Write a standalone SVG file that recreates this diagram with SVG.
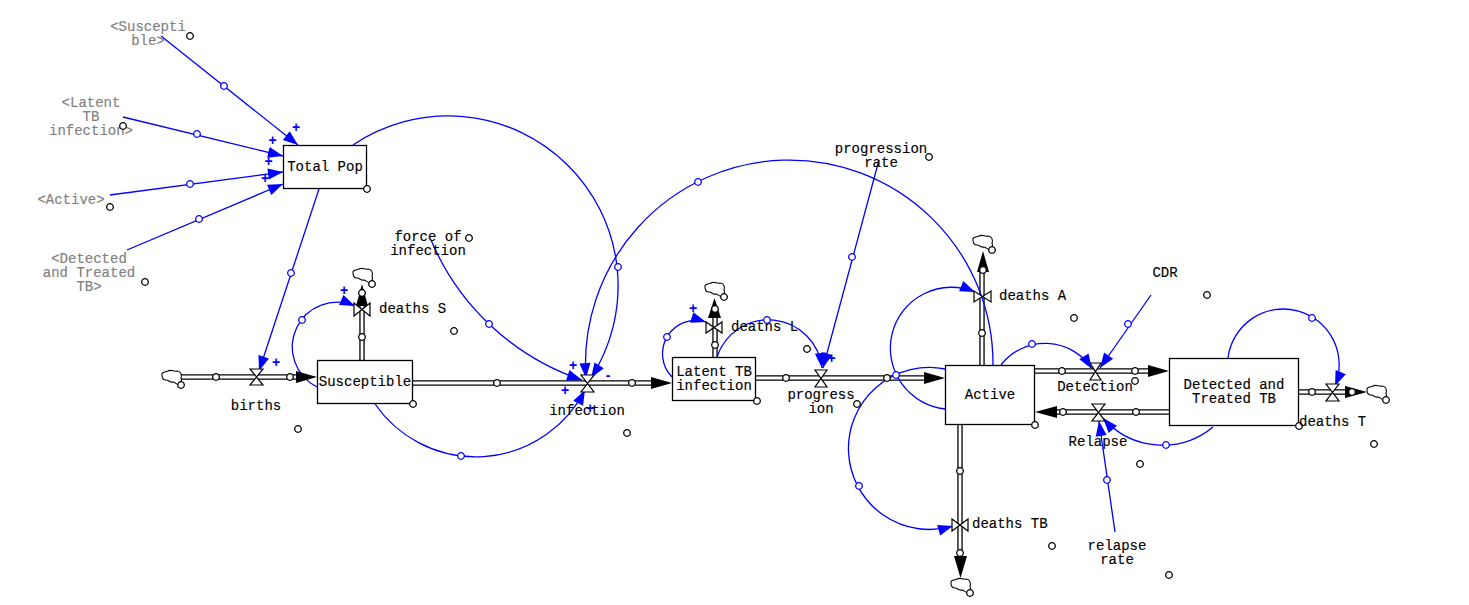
<svg xmlns="http://www.w3.org/2000/svg" width="1469" height="605" viewBox="0 0 1469 605">
<style>
text{font-family:"Liberation Mono",monospace;font-size:14px;fill:#000;text-anchor:middle;stroke:#000;stroke-width:.15}
text.l{text-anchor:start}
text.g{fill:#808080;stroke:#808080}
text.p{font-family:"Liberation Sans",sans-serif;font-weight:bold;font-size:14px;fill:#00f;stroke:none}
.box{fill:#fff;stroke:#000;stroke-width:1.3}
.po{fill:none;stroke:#000;stroke-width:5.4}
.pi{fill:none;stroke:#fff;stroke-width:2.8}
.lnk{fill:none;stroke:#00f;stroke-width:1.3;marker-end:url(#ah)}
.valve{fill:#fff;stroke:#000;stroke-width:1.2}
.cloud{fill:#fff;stroke:#000;stroke-width:1.1}
.hb{fill:#fff;stroke:#00f;stroke-width:1.3}
.hk{fill:#fff;stroke:#000;stroke-width:1.3}
.ar{fill:#000}
</style>
<defs>
<marker id="ah" markerUnits="userSpaceOnUse" markerWidth="16" markerHeight="12" refX="15" refY="5.5" orient="auto" overflow="visible"><path d="M0,0 L15,5.5 L0,11 Z" fill="#00f"/></marker>
<path id="cl" d="M-10,-3 C-11,-6 -6,-6 -4,-7 C-1,-9 2,-6 5,-7 C9,-7 10,-3 9,0 C10,3 9,5 8,6 C5,8 3,4 1,4 C-2,5 -3,2 -6,2 C-9,2 -10,-1 -10,-3 Z"/>
<circle id="h" r="3.300"/>
</defs>
<g id="connectors">
<g id="pipes">
<path class="po" d="M181,377H300M362,360V290M412,383H655M715,357V315M755,378H930M982,365V270M960,424V558M1034,371H1150M1169,412H1055M1298,392H1350"/>
<path class="pi" d="M181,377H300M362,360V290M412,383H655M715,357V315M755,378H930M982,365V270M960,424V558M1034,371H1150M1169,412H1055M1298,392H1350"/>
</g>
<g id="links">
<path class="lnk" d="M161,36L298,145"/>
<path class="lnk" d="M123,117L283,156"/>
<path class="lnk" d="M110,195L283,172"/>
<path class="lnk" d="M127,250L283,184"/>
<path class="lnk" d="M319,189L259,371"/>
<path class="lnk" d="M353,145A170,170 0 0 1 591,378"/>
<path class="lnk" d="M993,365A203.750,203.750 0 1 0 586,378"/>
<path class="lnk" d="M431,240A250,250 0 0 0 582,380"/>
<path class="lnk" d="M375,404A122.6,122.6 0 0 0 585,390"/>
<path class="lnk" d="M317,387A44.750,44.750 0 0 1 355,306"/>
<path class="lnk" d="M672,377A33.3,33.3 0 0 1 706,322"/>
<path class="lnk" d="M717,357A54,54 0 0 1 822,368"/>
<path class="lnk" d="M879,160L823,368"/>
<path class="lnk" d="M946,409A61,61 0 1 1 975,292"/>
<path class="lnk" d="M945,369A81,81 0 1 0 953,526"/>
<path class="lnk" d="M1001,365A55.7,55.7 0 0 1 1092,369"/>
<path class="lnk" d="M1151,295L1100,368"/>
<path class="lnk" d="M1115,532L1099,421"/>
<path class="lnk" d="M1213,427A79,79 0 0 1 1103,418"/>
<path class="lnk" d="M1228,358A55.8,55.8 0 1 1 1335,386"/>
</g>
<g id="flow-arrows">
<path class="ar" d="M296,371L317,377L296,383Z"/>
<path class="ar" d="M356,306L362,284L368,306Z"/>
<path class="ar" d="M651,377L672,383L651,389Z"/>
<path class="ar" d="M708,318L714.500,298L721,318Z"/>
<path class="ar" d="M924,372L945,378L924,384Z"/>
<path class="ar" d="M977,272L983,251L989,272Z"/>
<path class="ar" d="M954,556L960.500,578L967,556Z"/>
<path class="ar" d="M1148,365L1169,371L1148,377Z"/>
<path class="ar" d="M1057,406L1035,412L1057,418Z"/>
<path class="ar" d="M1345,386L1367,392L1345,398Z"/>
</g>
<g id="polarity">
<text class="p" x="296" y="132">+</text>
<text class="p" x="272.500" y="145">+</text>
<text class="p" x="268.500" y="166">+</text>
<text class="p" x="265" y="183">+</text>
<text class="p" x="276" y="367">+</text>
<text class="p" x="344" y="295">+</text>
<text class="p" x="573" y="370">+</text>
<text class="p" x="565" y="395">+</text>
<text class="p" x="590" y="413">+</text>
<text class="p" x="608" y="380">-</text>
<text class="p" x="693" y="313">+</text>
<text class="p" x="831.500" y="363">+</text>
</g>
</g>
<g id="births"><path class="valve" d="M250,369H263L250,385H263Z"/><text x="256" y="410">births</text><use href="#h" class="hk" x="298" y="429"/></g>
<g id="source-births"><use href="#cl" class="cloud" x="172" y="378"/><use href="#h" class="hk" x="181" y="385"/></g>
<g id="Susceptible"><rect class="box" x="317.500" y="360.500" width="95" height="43"/><text x="365" y="386">Susceptible</text><use href="#h" class="hk" x="413" y="404"/></g>
<g id="deaths-S"><path class="valve" d="M354,303V316L370,303V316Z"/><text class="l" x="379" y="313">deaths S</text><use href="#h" class="hk" x="454" y="331"/></g>
<g id="sink-S"><use href="#cl" class="cloud" x="363" y="276"/><use href="#h" class="hk" x="372" y="284"/></g>
<g id="Total-Pop"><rect class="box" x="283.500" y="145.500" width="83" height="43"/><text x="325" y="171">Total Pop</text><use href="#h" class="hk" x="367" y="189"/></g>
<g id="ghost-Susceptible"><text class="g" x="148" y="31">&lt;Suscepti</text><text class="g" x="148" y="45">ble&gt;</text><use href="#h" class="hk" x="190" y="36"/></g>
<g id="ghost-Latent"><text class="g" x="91" y="107">&lt;Latent</text><text class="g" x="91" y="121">TB</text><text class="g" x="91" y="135">infection&gt;</text><use href="#h" class="hk" x="123" y="126"/></g>
<g id="ghost-Active"><text class="g" x="71" y="204">&lt;Active&gt;</text><use href="#h" class="hk" x="110" y="207"/></g>
<g id="ghost-Detected"><text class="g" x="89" y="263">&lt;Detected</text><text class="g" x="89" y="277">and Treated</text><text class="g" x="89" y="291">TB&gt;</text><use href="#h" class="hk" x="145" y="282"/></g>
<g id="force-of-infection"><text x="428" y="241">force of</text><text x="428" y="255">infection</text><use href="#h" class="hk" x="469" y="238"/></g>
<g id="infection"><path class="valve" d="M581,375H594L581,392H594Z"/><text x="587" y="415">infection</text><use href="#h" class="hk" x="627" y="433"/></g>
<g id="Latent-TB"><rect class="box" x="672.500" y="357.500" width="83" height="43"/><text x="714" y="376">Latent TB</text><text x="714" y="390">infection</text><use href="#h" class="hk" x="757" y="401"/></g>
<g id="deaths-L"><path class="valve" d="M706,322V333L722,322V333Z"/><text class="l" x="731" y="331">deaths L</text><use href="#h" class="hk" x="807" y="349"/></g>
<g id="sink-L"><use href="#cl" class="cloud" x="715" y="290"/><use href="#h" class="hk" x="724" y="297"/></g>
<g id="progression"><path class="valve" d="M815,370H827L815,387H827Z"/><text x="821" y="399">progress</text><text x="821" y="413">ion</text><use href="#h" class="hk" x="857" y="404"/></g>
<g id="progression-rate"><text x="881" y="153">progression</text><text x="881" y="167">rate</text><use href="#h" class="hk" x="929" y="157"/></g>
<g id="Active"><rect class="box" x="945.500" y="365.500" width="89" height="59"/><text x="990" y="399">Active</text><use href="#h" class="hk" x="1035" y="425"/></g>
<g id="deaths-A"><path class="valve" d="M974,291V302L991,291V302Z"/><text class="l" x="999" y="300">deaths A</text><use href="#h" class="hk" x="1074" y="318"/></g>
<g id="sink-A"><use href="#cl" class="cloud" x="983" y="243"/><use href="#h" class="hk" x="992" y="250"/></g>
<g id="deaths-TB"><path class="valve" d="M952,519V531L968,519V531Z"/><text class="l" x="972" y="528">deaths TB</text><use href="#h" class="hk" x="1052" y="546"/></g>
<g id="sink-TB"><use href="#cl" class="cloud" x="961" y="586"/><use href="#h" class="hk" x="970" y="593"/></g>
<g id="Detection"><path class="valve" d="M1090,363H1101L1090,380H1101Z"/><text x="1095" y="391">Detection</text><use href="#h" class="hk" x="1135" y="381"/></g>
<g id="CDR"><text x="1165" y="277">CDR</text><use href="#h" class="hk" x="1207" y="295"/></g>
<g id="Relapse"><path class="valve" d="M1092,404H1105L1092,421H1105Z"/><text x="1098" y="446">Relapse</text><use href="#h" class="hk" x="1140" y="464"/></g>
<g id="relapse-rate"><text x="1117" y="550">relapse</text><text x="1117" y="564">rate</text><use href="#h" class="hk" x="1169" y="575"/></g>
<g id="Detected-Treated"><rect class="box" x="1169.500" y="358.500" width="129" height="67"/><text x="1234" y="389">Detected and</text><text x="1234" y="403">Treated TB</text><use href="#h" class="hk" x="1299" y="426"/></g>
<g id="deaths-T"><path class="valve" d="M1326,384H1339L1326,401H1339Z"/><text class="l" x="1299" y="426">deaths T</text><use href="#h" class="hk" x="1374" y="444"/></g>
<g id="sink-T"><use href="#cl" class="cloud" x="1377" y="393"/><use href="#h" class="hk" x="1386" y="400"/></g>
<g id="link-handles">
<use href="#h" class="hk" x="216" y="377"/><use href="#h" class="hk" x="290" y="377"/><use href="#h" class="hk" x="362" y="337"/><use href="#h" class="hk" x="362" y="293"/><use href="#h" class="hk" x="497" y="383"/><use href="#h" class="hk" x="632" y="383"/><use href="#h" class="hk" x="715" y="345"/><use href="#h" class="hk" x="715" y="309"/><use href="#h" class="hk" x="786" y="378"/><use href="#h" class="hk" x="887" y="378"/><use href="#h" class="hk" x="982" y="333"/><use href="#h" class="hk" x="983" y="270"/><use href="#h" class="hk" x="960" y="471"/><use href="#h" class="hk" x="960" y="553"/><use href="#h" class="hk" x="1062" y="371"/><use href="#h" class="hk" x="1135" y="371"/><use href="#h" class="hk" x="1063" y="412"/><use href="#h" class="hk" x="1136" y="412"/><use href="#h" class="hk" x="1312" y="392"/><use href="#h" class="hk" x="1352" y="392"/>
<use href="#h" class="hb" x="224" y="86"/><use href="#h" class="hb" x="197" y="134"/><use href="#h" class="hb" x="190" y="184"/><use href="#h" class="hb" x="199" y="219"/><use href="#h" class="hb" x="291" y="273"/><use href="#h" class="hb" x="618" y="267"/><use href="#h" class="hb" x="698" y="182"/><use href="#h" class="hb" x="489" y="324"/><use href="#h" class="hb" x="461" y="456"/><use href="#h" class="hb" x="302" y="320"/><use href="#h" class="hb" x="667" y="337"/><use href="#h" class="hb" x="767" y="320"/><use href="#h" class="hb" x="852" y="257"/><use href="#h" class="hb" x="896" y="375"/><use href="#h" class="hb" x="859" y="486"/><use href="#h" class="hb" x="1032" y="344"/><use href="#h" class="hb" x="1128" y="324"/><use href="#h" class="hb" x="1107" y="480"/><use href="#h" class="hb" x="1166" y="445"/><use href="#h" class="hb" x="1312" y="318"/>
</g>
</svg>
